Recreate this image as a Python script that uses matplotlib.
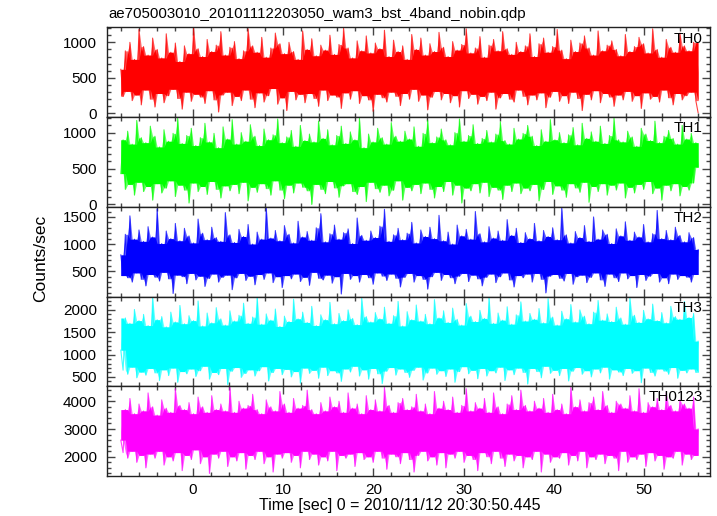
import numpy as np
import matplotlib
matplotlib.use("Agg")
import matplotlib.pyplot as plt
from matplotlib.ticker import MultipleLocator

plt.rcParams['font.family'] = ['Liberation Sans', 'DejaVu Sans']

# light curve bins (counts/sec, 0.25 s steps from t = -8 s)
th0 = [620, 240, 880, 310, 1000, 180, 760, 260, 1180, 120,
       940, 330, 820, 200, 1060, 90, 900, 280, 780, 150,
       1120, 250, 860, 340, 990, 210, 730, 60, 950, 300,
       840, 170, 1200, 270, 910, 230, 800, 140, 1040, 320,
       870, 190, 960, 20, 1150, 260, 820, 300, 930, 110,
       1010, 240, 770, 180, 880, 330, 1190, 200, 950, 80,
       860, 290, 1070, 160, 790, 250, 920, 350, 1130, 130,
       980, 220, 840, 40, 1000, 310, 870, 190, 760, 270,
       1160, 150, 900, 280, 1050, 210, 810, 100, 960, 330,
       890, 180, 1100, 260, 830, 230, 970, 70, 1200, 290,
       920, 200, 780, 320, 1020, 140, 880, 250, 1090, 190,
       850, 30, 990, 270, 910, 220, 1170, 160, 800, 300,
       1030, 240, 870, 110, 950, 280, 760, 200, 1110, 340,
       900, 170, 1060, 260, 820, 50, 980, 230, 870, 310,
       1140, 190, 930, 280, 800, 150, 1010, 250, 890, 90,
       970, 320, 1190, 210, 850, 270, 920, 130, 1080, 240,
       790, 180, 960, 300, 1040, 60, 880, 220, 1150, 280,
       910, 200, 830, 160, 1000, 330, 870, 240, 950, 120,
       1120, 260, 800, 190, 980, 290, 1060, 80, 860, 230,
       940, 310, 1180, 170, 890, 250, 770, 140, 1030, 300,
       870, 210, 990, 40, 1090, 270, 920, 190, 820, 320,
       1160, 150, 880, 280, 960, 230, 1020, 100, 900, 260,
       810, 190, 1110, 310, 870, 170, 940, 250, 1070, 70,
       980, 290, 850, 200, 1190, 240, 900, 160, 790, 330,
       1040, 220, 930, 120, 860, 280, 1130, 190, 950, 250,
       880, 300, 1000, 180, 10]
th1 = [430, 900, 210, 1020, 280, 840, 130, 1170, 310, 930,
       180, 860, 250, 1090, 60, 950, 290, 800, 160, 1040,
       230, 880, 330, 990, 110, 1200, 270, 850, 200, 960,
       20, 1060, 300, 820, 180, 930, 250, 1130, 140, 870,
       320, 990, 210, 790, 90, 1080, 260, 910, 190, 1180,
       280, 840, 150, 1000, 310, 880, 50, 1110, 240, 950,
       170, 820, 290, 1050, 220, 900, 130, 970, 330, 1190,
       200, 860, 80, 940, 270, 1030, 160, 810, 300, 1100,
       240, 890, 190, 980, 0, 870, 280, 1160, 210, 920,
       150, 1040, 320, 830, 230, 960, 100, 1090, 260, 850,
       290, 1010, 180, 900, 140, 1200, 250, 790, 40, 980,
       310, 870, 220, 1060, 170, 930, 270, 840, 120, 1140,
       200, 950, 330, 880, 60, 1020, 240, 910, 190, 1080,
       280, 810, 150, 990, 300, 1170, 210, 860, 90, 940,
       250, 1050, 180, 900, 320, 830, 130, 1000, 270, 1190,
       20, 880, 230, 960, 190, 1110, 290, 850, 160, 920,
       310, 1030, 110, 870, 240, 980, 200, 1150, 70, 890,
       270, 840, 180, 1060, 300, 910, 150, 990, 230, 1100,
       190, 950, 280, 820, 50, 1040, 210, 880, 320, 1180,
       140, 900, 260, 1000, 200, 860, 100, 970, 290, 1070,
       230, 830, 170, 1130, 310, 920, 30, 1010, 250, 880,
       180, 1090, 290, 850, 130, 960, 270, 1200, 200, 900,
       300, 870, 90, 1020, 240, 940, 160, 810, 280, 1060,
       210, 980, 320, 890, 150, 1160, 230, 860, 60, 950,
       270, 1030, 190, 920, 290, 840, 120, 1100, 250, 910,
       200, 990, 300, 860, 520]
th2 = [800, 420, 1180, 380, 1520, 300, 1090, 470, 1260, 350,
       1050, 230, 1320, 440, 1130, 390, 1650, 320, 1010, 480,
       1240, 360, 1100, 90, 1380, 430, 1060, 400, 1290, 270,
       1150, 460, 1020, 340, 1460, 410, 1200, 220, 1080, 370,
       1310, 450, 1120, 300, 1050, 390, 1580, 430, 1170, 160,
       1030, 380, 1270, 460, 1140, 330, 1360, 410, 1000, 250,
       1220, 440, 1090, 350, 1680, 470, 1110, 290, 1250, 400,
       1060, 200, 1340, 420, 1180, 360, 1020, 450, 1420, 310,
       1130, 390, 1230, 240, 1070, 480, 1300, 370, 1560, 340,
       1040, 430, 1190, 280, 1350, 400, 1090, 80, 1210, 460,
       1280, 350, 1010, 420, 1480, 300, 1160, 440, 1070, 380,
       1240, 260, 1120, 470, 1330, 410, 1640, 330, 1050, 450,
       1170, 370, 1290, 210, 1080, 390, 1200, 460, 1400, 300,
       1020, 420, 1260, 350, 1140, 170, 1310, 400, 1100, 480,
       1530, 330, 1060, 440, 1220, 380, 1000, 270, 1350, 410,
       1150, 460, 1270, 310, 1090, 430, 1600, 360, 1190, 230,
       1040, 390, 1320, 450, 1110, 290, 1240, 400, 1070, 470,
       1450, 340, 1160, 210, 1290, 420, 1030, 380, 1210, 450,
       1100, 300, 1380, 460, 1060, 350, 1250, 100, 1140, 410,
       1300, 440, 1080, 370, 1670, 320, 1170, 460, 1020, 260,
       1230, 400, 1120, 430, 1340, 290, 1050, 390, 1500, 470,
       1090, 340, 1260, 220, 1180, 450, 1010, 380, 1280, 310,
       1150, 470, 1410, 360, 1070, 420, 1220, 200, 1130, 440,
       1360, 330, 1040, 410, 1190, 460, 1620, 300, 1100, 380,
       1250, 270, 1080, 450, 1310, 350, 1160, 420, 1040, 390,
       1210, 300, 1120, 440, 900]
th3 = [1100, 650, 1820, 560, 1700, 720, 2010, 480, 1760, 610,
       1900, 540, 1650, 690, 2280, 590, 1780, 420, 1850, 660,
       1620, 530, 1950, 700, 1730, 380, 2100, 620, 1690, 570,
       1870, 680, 1760, 510, 2200, 640, 1640, 740, 1930, 450,
       1710, 600, 2050, 550, 1800, 690, 1660, 330, 1980, 630,
       1750, 710, 1880, 490, 2150, 580, 1700, 660, 1840, 520,
       2300, 640, 1680, 730, 1910, 410, 1770, 600, 2020, 690,
       1630, 550, 1860, 670, 1740, 500, 2240, 620, 1800, 360,
       1950, 700, 1720, 580, 2080, 650, 1650, 470, 1890, 720,
       1780, 530, 2170, 640, 1690, 590, 1920, 400, 1760, 680,
       2000, 610, 1810, 740, 1670, 520, 2260, 660, 1850, 450,
       1730, 690, 1940, 570, 1800, 350, 2060, 630, 1700, 710,
       1870, 540, 2190, 680, 1640, 600, 1960, 490, 1780, 650,
       2110, 720, 1750, 430, 1900, 590, 1690, 700, 2230, 560,
       1820, 640, 1980, 510, 1720, 680, 2040, 380, 1790, 620,
       1660, 730, 2140, 570, 1860, 650, 1740, 460, 1990, 690,
       1810, 520, 2290, 640, 1700, 590, 1930, 720, 1770, 420,
       2070, 660, 1680, 550, 1890, 700, 2180, 600, 1750, 340,
       1920, 690, 1790, 620, 2030, 480, 1710, 740, 2250, 580,
       1840, 650, 1660, 530, 1970, 690, 1800, 410, 2120, 630,
       1730, 710, 2000, 560, 1860, 640, 1690, 500, 1950, 680,
       2210, 590, 1770, 720, 1910, 450, 1740, 660, 2060, 610,
       1820, 530, 1680, 690, 2270, 580, 1880, 640, 1720, 370,
       1990, 700, 1800, 600, 2130, 520, 1760, 680, 1940, 630,
       1710, 560, 2080, 710, 1850, 470, 1790, 650, 2190, 590,
       1830, 680, 1920, 600, 1300]
th0123 = [2600, 2150, 3700, 1950, 4100, 2200, 3550, 1800, 3900, 2050,
          3650, 1600, 4300, 2100, 3800, 1950, 3500, 2200, 4050, 1700,
          3750, 2000, 3600, 1850, 4450, 2150, 3850, 1500, 3700, 2050,
          3950, 1900, 3550, 2250, 4150, 1750, 3800, 2000, 3600, 1400,
          4200, 2100, 3700, 1950, 3900, 2200, 3650, 1650, 4500, 2000,
          3600, 1850, 4000, 2150, 3750, 1550, 3850, 2050, 4250, 1900,
          3700, 2200, 3550, 1750, 4050, 2000, 3800, 1450, 3650, 2100,
          4350, 1950, 3900, 2150, 3600, 1800, 4100, 2050, 3750, 1600,
          3850, 2200, 4400, 1900, 3700, 2100, 3550, 1700, 3950, 2000,
          3650, 1850, 4150, 2200, 3800, 1500, 4000, 2050, 3600, 1950,
          4300, 2100, 3750, 1650, 3900, 2150, 3550, 1900, 4200, 2000,
          3700, 1800, 4050, 2200, 3650, 1950, 4500, 1550, 3850, 2100,
          3600, 2000, 3950, 1750, 4100, 2150, 3700, 1900, 3800, 1450,
          4250, 2050, 3650, 2200, 3900, 1850, 3550, 2000, 4350, 1700,
          3750, 2150, 4000, 1600, 3700, 2100, 4150, 1950, 3600, 2200,
          3850, 1800, 4450, 2050, 3650, 1900, 3950, 1500, 3750, 2150,
          4100, 2000, 3600, 1750, 4300, 2200, 3800, 1950, 3550, 1650,
          3900, 2100, 4200, 1850, 3700, 2050, 4400, 1600, 3850, 2000,
          3650, 1900, 4000, 2200, 3750, 1450, 4100, 2100, 3600, 1800,
          4250, 2000, 3700, 1950, 3900, 2150, 3550, 1700, 4500, 2050,
          3800, 1850, 4050, 2200, 3650, 1600, 3950, 2000, 4150, 1900,
          3700, 2100, 4350, 1750, 3850, 2050, 3600, 1950, 4000, 1500,
          3900, 2200, 3750, 1800, 4200, 2000, 3650, 1900, 4450, 2100,
          3600, 1650, 3950, 2150, 3800, 1850, 4100, 2050, 3700, 1550,
          4300, 2000, 3850, 1950, 3650, 2200, 4050, 1700, 3900, 2100,
          3750, 1900, 4150, 2050, 3000]

bands = ['TH0', 'TH1', 'TH2', 'TH3', 'TH0123']
series = [th0, th1, th2, th3, th0123]
colors = ['#ff0000', '#00ff00', '#0000ff', '#00ffff', '#ff00ff']
ylims = [(-52, 1211), (-33, 1217), (33, 1687), (290, 2300), (1306, 4540)]
yminor = [100, 100, 100, 100, 200]
ymajor = [500, 500, 500, 500, 1000]
t_start, t_stop = -8.0, 56.0


def band(y, half):
    # envelope of the light curve: lowest nearby peak / highest nearby dip
    m = y.mean()
    pk = np.where(y > m, y, np.inf)
    dp = np.where(y <= m, y, -np.inf)
    n = len(y)
    hi = np.array([pk[max(0, i - half):i + half + 1].min() for i in range(n)])
    lo = np.array([dp[max(0, i - half):i + half + 1].max() for i in range(n)])
    hi[~np.isfinite(hi)] = m
    lo[~np.isfinite(lo)] = m
    return lo, hi


fig = plt.figure(figsize=(7.17, 5.16), dpi=100)
gs = fig.add_gridspec(5, 1, left=0.149, right=0.990, top=0.947, bottom=0.0775, hspace=0)

for i in range(5):
    ax = fig.add_subplot(gs[i])
    y = np.array(series[i], dtype=float)
    t = np.linspace(t_start, t_stop, len(y))
    lo1, hi1 = band(y, 1)
    lo2, hi2 = band(y, 2)
    # light fringe of the noisy curve, then the dense core, then the curve itself
    ax.fill_between(t, lo1, hi1, color=colors[i], lw=0, alpha=0.6)
    ax.fill_between(t, lo2, hi2, color=colors[i], lw=0)
    ax.plot(t, y, color=colors[i], lw=0.8, alpha=0.75)
    ax.set_xlim(-9.55, 57.3)
    ax.set_ylim(*ylims[i])
    ax.xaxis.set_major_locator(MultipleLocator(10))
    ax.xaxis.set_minor_locator(MultipleLocator(2))
    ax.yaxis.set_major_locator(MultipleLocator(ymajor[i]))
    ax.yaxis.set_minor_locator(MultipleLocator(yminor[i]))
    ax.tick_params(which='both', direction='in', top=True, right=True,
                   labelsize=11, color='#444444', width=1)
    ax.tick_params(axis='y', pad=7)
    ax.tick_params(axis='x', pad=5)
    ax.tick_params(which='major', length=6)
    ax.tick_params(which='minor', length=3)
    for s in ax.spines.values():
        s.set_linewidth(1.0)
        s.set_color('#222222')
    if i < 4:
        ax.tick_params(labelbottom=False)
    ax.text(0.988, 0.875, bands[i], transform=ax.transAxes, ha='right',
            va='center', fontsize=11)

fig.text(0.151, 0.972, 'ae705003010_20101112203050_wam3_bst_4band_nobin.qdp',
         ha='left', va='center', fontsize=10.8)
fig.text(0.057, 0.5, 'Counts/sec', rotation=90, ha='center', va='center', fontsize=12.5)
fig.text(0.558, 0.021, 'Time [sec] 0 = 2010/11/12 20:30:50.445', ha='center',
         va='center', fontsize=11.5)

fig.savefig('out.png', dpi=100)
